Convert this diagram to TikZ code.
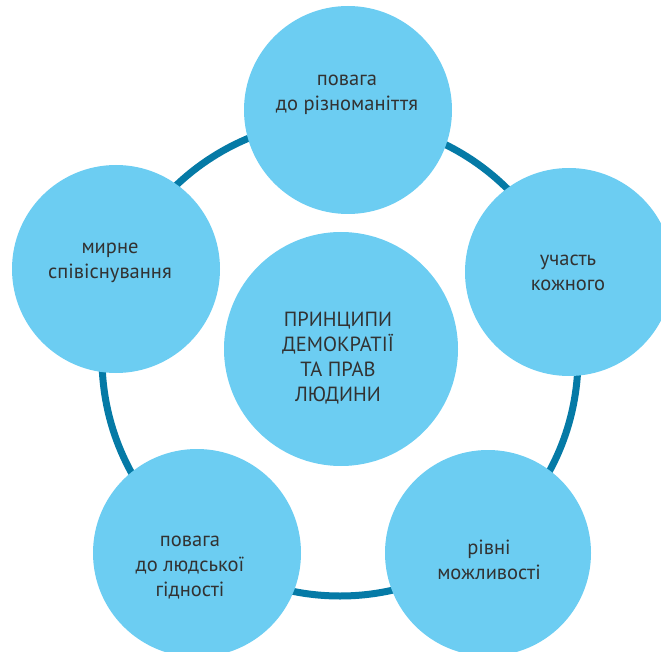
\documentclass[tikz,border=0pt]{standalone}
\usepackage{fontspec}
\setmainfont{PT Sans}
\begin{document}
\begin{tikzpicture}[x=1pt,y=-1pt,
  bubble/.style={circle,fill=bubblefill,inner sep=0pt,minimum size=#1},
  label/.style={align=center,text=textgray,font=\fontsize{20.5}{25}\selectfont},
]
\definecolor{bubblefill}{RGB}{108,205,242}
\definecolor{ringblue}{RGB}{5,122,166}
\definecolor{textgray}{RGB}{50,50,50}
\useasboundingbox (0,0) rectangle (661,652);
\clip (0,0) rectangle (661,652);
\coordinate (ringc) at (340,358);
\draw[ringblue,line width=7pt] (ringc) circle[radius=238];
\node[bubble=208] (top) at (348,110) {};
\node[bubble=208] (right) at (569,272) {};
\node[bubble=208] (tl) at (116,269) {};
\node[bubble=208] (bl) at (197,553) {};
\node[bubble=206] (br) at (488,553) {};
\node[bubble=234] (mid) at (341,349) {};
\node[label] (ttop) at (347,95) {повага\\до різноманіття};
\node[label] (tright) at (568,273) {участь\\кожного};
\node[label] (ttl) at (110,263) {мирне\\співіснування};
\node[label] (tbl) at (190,568) {повага\\до людської\\гідності};
\node[label] (tbr) at (489,560) {рівні\\можливості};
\node[label] (tmid) at (338,358) {ПРИНЦИПИ\\ДЕМОКРАТІЇ\\ТА ПРАВ\\ЛЮДИНИ};
\end{tikzpicture}
\end{document}
